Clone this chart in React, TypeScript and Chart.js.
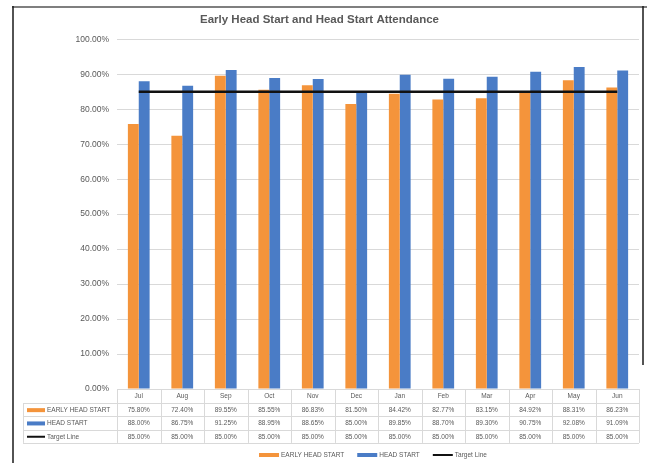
import React, { useEffect, useRef } from "react";
import { Chart, registerables } from "chart.js";

Chart.register(...registerables);

const titleText = "Early Head Start and Head Start Attendance";
const months = ["Jul", "Aug", "Sep", "Oct", "Nov", "Dec", "Jan", "Feb", "Mar", "Apr", "May", "Jun"];
const earlyHeadStart = [75.8, 72.4, 89.55, 85.55, 86.83, 81.5, 84.42, 82.77, 83.15, 84.92, 88.31, 86.23];
const headStart = [88.0, 86.75, 91.25, 88.95, 88.65, 85.0, 89.85, 88.7, 89.3, 90.75, 92.08, 91.09];
const targetLine = [85, 85, 85, 85, 85, 85, 85, 85, 85, 85, 85, 85];
const seriesNames = ["EARLY HEAD START", "HEAD START", "Target Line"];
const yMin = 0;
const yMax = 100;
const yStep = 10;

const ORANGE = "#F4943B";
const BLUE = "#4A7CC6";
const BLACK = "#111111";
const TEXT = "#595959";
const GRID = "#D9D9D9";
const FONT = "'Liberation Sans', Arial, sans-serif";

const fmt = (v: number) => v.toFixed(2) + "%";

const framePlugin = {
  id: "frame",
  beforeDraw(chart: any) {
    const ctx = chart.ctx;
    ctx.save();
    ctx.fillStyle = "#ffffff";
    ctx.fillRect(0, 0, chart.width, chart.height);
    ctx.strokeStyle = "#7f7f7f";
    ctx.lineWidth = 2;
    ctx.beginPath();
    ctx.moveTo(12, 7);
    ctx.lineTo(chart.width, 7);
    ctx.stroke();
    ctx.strokeStyle = "#1a1a1a";
    ctx.lineWidth = 1.5;
    ctx.beginPath();
    ctx.moveTo(13, 6);
    ctx.lineTo(13, chart.height);
    ctx.stroke();
    ctx.beginPath();
    ctx.moveTo(643, 6);
    ctx.lineTo(643, 365);
    ctx.stroke();
    ctx.restore();
  },
};

const tablePlugin = {
  id: "dataTable",
  afterDraw(chart: any) {
    const ctx = chart.ctx;
    const xs = chart.scales.x;
    const area = chart.chartArea;
    const n = months.length;
    const colW = (area.right - area.left) / n;
    const top = area.bottom;
    const rowH = 13.3;
    const headH = 14;
    const labelLeft = 23;
    const rows = [earlyHeadStart, headStart, targetLine];
    const rowColors = [ORANGE, BLUE, BLACK];
    const tableBottom = top + headH + rowH * rows.length;

    ctx.save();
    ctx.strokeStyle = GRID;
    ctx.lineWidth = 1;
    // horizontal lines
    ctx.beginPath();
    ctx.moveTo(area.left, top + 0.5);
    ctx.lineTo(area.right, top + 0.5);
    for (let r = 0; r <= rows.length; r++) {
      const y = Math.round(top + headH + r * rowH) + 0.5;
      ctx.moveTo(labelLeft, y);
      ctx.lineTo(area.right, y);
    }
    // vertical lines
    ctx.moveTo(labelLeft + 0.5, top + headH);
    ctx.lineTo(labelLeft + 0.5, tableBottom);
    for (let i = 0; i <= n; i++) {
      const x = Math.round(area.left + i * colW) + 0.5;
      ctx.moveTo(x, top);
      ctx.lineTo(x, tableBottom);
    }
    ctx.stroke();

    ctx.fillStyle = TEXT;
    ctx.font = `6.5px ${FONT}`;
    ctx.textAlign = "center";
    ctx.textBaseline = "middle";
    months.forEach((m, i) => {
      const x = xs.getPixelForValue(i);
      ctx.fillText(m, x, top + headH / 2 + 0.5);
    });
    rows.forEach((vals, r) => {
      const yc = top + headH + r * rowH + rowH / 2 + 0.5;
      vals.forEach((v, i) => {
        const x = xs.getPixelForValue(i);
        ctx.fillStyle = TEXT;
        ctx.fillText(fmt(v), x, yc);
      });
      // key
      if (r < 2) {
        ctx.fillStyle = rowColors[r];
        ctx.fillRect(27, yc - 2, 18, 4);
      } else {
        ctx.strokeStyle = rowColors[r];
        ctx.lineWidth = 2;
        ctx.beginPath();
        ctx.moveTo(27, yc);
        ctx.lineTo(45, yc);
        ctx.stroke();
      }
      ctx.fillStyle = TEXT;
      ctx.textAlign = "left";
      ctx.fillText(seriesNames[r], 47, yc);
      ctx.textAlign = "center";
    });

    // bottom legend
    const legendY = 455;
    const keyW = 20;
    const gap = 2;
    const itemGap = 13;
    ctx.font = `6.5px ${FONT}`;
    const widths = seriesNames.map((s) => keyW + gap + ctx.measureText(s).width);
    const total = widths.reduce((a, b) => a + b, 0) + itemGap * (widths.length - 1);
    let x = (area.left + area.right) / 2 - total / 2 - 5;
    seriesNames.forEach((s, r) => {
      if (r < 2) {
        ctx.fillStyle = rowColors[r];
        ctx.fillRect(x, legendY - 2, keyW, 4);
      } else {
        ctx.strokeStyle = rowColors[r];
        ctx.lineWidth = 2;
        ctx.beginPath();
        ctx.moveTo(x, legendY);
        ctx.lineTo(x + keyW, legendY);
        ctx.stroke();
      }
      ctx.fillStyle = TEXT;
      ctx.textAlign = "left";
      ctx.fillText(s, x + keyW + gap, legendY + 0.5);
      x += widths[r] + itemGap;
    });
    ctx.restore();
  },
};

export default function App() {
  const ref = useRef<HTMLCanvasElement | null>(null);

  useEffect(() => {
    if (!ref.current) return;
    const chart = new Chart(ref.current, {
      type: "bar",
      data: {
        labels: months,
        datasets: [
          {
            type: "line",
            label: seriesNames[2],
            data: targetLine,
            borderColor: BLACK,
            backgroundColor: BLACK,
            borderWidth: 2.5,
            pointRadius: 0,
            order: 0,
          } as any,
          {
            label: seriesNames[0],
            data: earlyHeadStart,
            backgroundColor: ORANGE,
            categoryPercentage: 0.5,
            barPercentage: 1.0,
            order: 1,
          },
          {
            label: seriesNames[1],
            data: headStart,
            backgroundColor: BLUE,
            categoryPercentage: 0.5,
            barPercentage: 1.0,
            order: 1,
          },
        ],
      },
      options: {
        responsive: false,
        animation: false,
        events: [],
        layout: { padding: { left: 0, right: 8, top: 0, bottom: 0 } },
        plugins: {
          legend: { display: false },
          tooltip: { enabled: false },
          title: {
            display: true,
            text: titleText,
            color: TEXT,
            font: { family: FONT, size: 11.5, weight: "bold" },
            padding: { top: 13, bottom: 12.5 },
          },
        },
        scales: {
          x: {
            grid: { display: false },
            border: { display: false },
            ticks: { display: false },
            afterFit: (scale: any) => {
              scale.height = 74;
            },
          },
          y: {
            min: yMin,
            max: yMax,
            grid: { color: GRID, drawTicks: false },
            border: { display: false },
            ticks: {
              stepSize: yStep,
              padding: 8,
              color: TEXT,
              font: { family: FONT, size: 8.5 },
              callback: (v: any) => fmt(Number(v)),
            },
            afterFit: (scale: any) => {
              scale.width = 117;
            },
          },
        },
      },
      plugins: [framePlugin, tablePlugin],
    });
    return () => chart.destroy();
  }, []);

  return (
    <div style={{ position: "absolute", left: 0, top: 0, width: 647, height: 463, background: "#fff" }}>
      <canvas ref={ref} width={647} height={463} style={{ display: "block" }} />
    </div>
  );
}
